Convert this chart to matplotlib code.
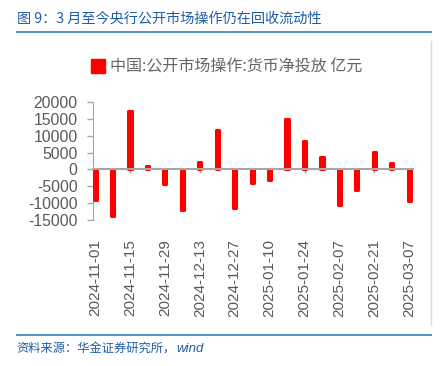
import matplotlib
matplotlib.use("Agg")
import matplotlib.pyplot as plt
from matplotlib.lines import Line2D
from matplotlib.patches import Patch

plt.rcParams['font.family'] = ['Liberation Sans', 'Noto Sans CJK SC', 'DejaVu Sans']

# weekly net injection, 100 million yuan
dates = ['2024-11-01', '2024-11-08', '2024-11-15', '2024-11-22', '2024-11-29',
         '2024-12-06', '2024-12-13', '2024-12-20', '2024-12-27', '2025-01-03',
         '2025-01-10', '2025-01-17', '2025-01-24', '2025-01-31', '2025-02-07',
         '2025-02-14', '2025-02-21', '2025-02-28', '2025-03-07']
values = [-9000, -13800, 17500, 1000, -4400, -12000, 2300, 11800, -11500, -4000,
          -3200, 15000, 8600, 3600, -10600, -6100, 5200, 1900, -9400]
yticks = [-15000, -10000, -5000, 0, 5000, 10000, 15000, 20000]

title = '图 9：3 月至今央行公开市场操作仍在回收流动性'
series_name = '中国:公开市场操作:货币净投放 亿元'
source = '资料来源：华金证券研究所，'
source_tail = 'wind'

blue_title = '#1f5ca8'
blue_line = '#3d8ec9'
gray_txt = '#595959'
gray_ax = '#a6a6a6'

fig = plt.figure(figsize=(4.44, 3.66), dpi=100)
ax = fig.add_axes([0.2095, 0.399, 0.72, 0.322])

x = list(range(len(values)))
ax.bar(x, values, width=0.18, color='#ff0000', edgecolor='#ff0000',
       linewidth=2.2, joinstyle='round', zorder=3)

ax.set_ylim(-15000, 20000)
ax.set_xlim(-0.12, 18.2)
ax.set_yticks(yticks)
ax.set_yticklabels([str(v) for v in yticks])
ax.tick_params(axis='y', colors=gray_ax, labelcolor=gray_txt, labelsize=11.3,
               length=4, width=1, pad=7)

for s in ['top', 'right']:
    ax.spines[s].set_visible(False)
ax.spines['left'].set_color(gray_ax)
ax.spines['bottom'].set_position(('data', 0))
ax.spines['bottom'].set_color(gray_ax)
ax.spines['bottom'].set_linewidth(1.5)
ax.spines['bottom'].set_zorder(4)

# tick marks on the zero line, labels at the bottom
ax.set_xticks(x[::2])
ax.tick_params(axis='x', labelbottom=False, colors=gray_ax, length=3, width=1)
sec = ax.secondary_xaxis(location=0)
sec.set_xticks(x[::2])
sec.set_xticklabels(dates[::2], rotation=90)
sec.tick_params(length=0, labelsize=11, labelcolor=gray_txt, pad=14)
sec.spines['bottom'].set_visible(False)

fig.legend(handles=[Patch(facecolor='#ff0000', edgecolor='#ff0000')],
           labels=[series_name], loc='center', bbox_to_anchor=(0.51, 0.817),
           frameon=False, handlelength=0.9, handleheight=0.9,
           handletextpad=0.3, labelcolor='#666666',
           prop={'family': ['Noto Sans CJK SC'], 'size': 11.5})

fig.text(0.038, 0.948, title, color=blue_title, fontsize=10.2, va='center',
         family=['Noto Sans CJK SC'])
src = fig.text(0.038, 0.046, source, color=blue_title, fontsize=8.8, va='center',
               family=['Noto Sans CJK SC'])
fig.canvas.draw()
bb = src.get_window_extent().transformed(fig.transFigure.inverted())
fig.text(bb.x1, 0.046, source_tail, color=blue_title, fontsize=9.5, va='center',
         style='italic', family=['Liberation Sans'])

fig.add_artist(Line2D([0.038, 0.971], [1 - 32 / 366] * 2, color=blue_line, lw=1.3))
fig.add_artist(Line2D([0.038, 0.971], [1 - 335 / 366] * 2, color=blue_line, lw=1.3))
fig.add_artist(Line2D([431 / 444] * 2, [1 - 41 / 366, 1 - 325 / 366],
                      color='#d9d9d9', lw=1))

fig.savefig('out.png', dpi=100)
